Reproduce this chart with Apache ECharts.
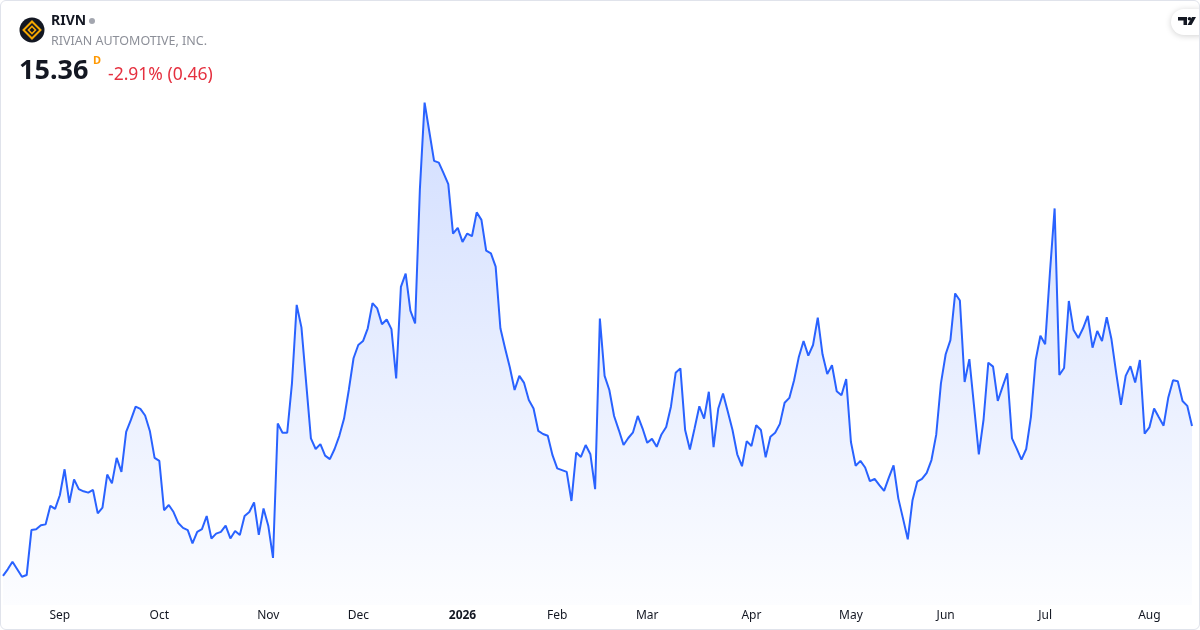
<!DOCTYPE html>
<html>
<head>
<meta charset="utf-8">
<script src="https://cdn.jsdelivr.net/npm/echarts@6/dist/echarts.min.js"></script>
<style>
html,body{margin:0;padding:0;background:#fff;}
#c{position:absolute;left:0;top:0;width:1200px;height:630px;}
#frame{position:absolute;left:0;top:0;width:1200px;height:630px;box-sizing:border-box;border:1px solid #e0e3eb;border-radius:6px;pointer-events:none;}
</style>
</head>
<body>
<div id="c"></div>
<div id="frame"></div>
<script>
// Daily closes, RIVN, 2025-08-14 .. 2026-08-14 (trading days)
const prices = [
11.96,12.11,12.28,12.11,11.94,11.98,13.00,13.02,13.11,13.13,
13.55,13.48,13.79,14.38,13.62,14.15,13.93,13.88,13.85,13.91,
13.38,13.51,14.26,14.06,14.64,14.32,15.23,15.50,15.80,15.75,
15.60,15.25,14.64,14.57,13.45,13.57,13.41,13.16,13.05,13.00,
12.70,12.96,13.02,13.32,12.81,12.92,12.96,13.10,12.81,12.98,
12.89,13.32,13.41,13.63,12.89,13.49,13.10,12.37,15.42,15.21,
15.21,16.33,18.11,17.60,16.34,15.08,14.84,14.95,14.69,14.61,
14.84,15.14,15.53,16.18,16.90,17.20,17.29,17.58,18.15,18.03,
17.67,17.78,17.56,16.44,18.52,18.82,17.98,17.69,20.72,22.70,
22.04,21.38,21.34,21.10,20.85,19.73,19.86,19.54,19.73,19.67,
20.21,20.04,19.34,19.28,18.98,17.58,17.12,16.69,16.18,16.50,
16.34,15.95,15.76,15.25,15.18,15.14,14.70,14.40,14.36,14.32,
13.66,14.76,14.66,14.93,14.72,13.93,17.80,16.50,16.18,15.59,
15.27,14.93,15.09,15.22,15.59,15.31,14.98,15.07,14.89,15.17,
15.34,15.80,16.57,16.67,15.27,14.83,15.31,15.81,15.53,16.14,
14.88,15.76,16.10,15.69,15.27,14.72,14.45,15.02,14.91,15.38,
15.27,14.65,15.12,15.21,15.41,15.89,16.00,16.40,16.93,17.29,
16.96,17.20,17.82,16.99,16.54,16.74,16.15,16.06,16.43,15.00,
14.46,14.57,14.42,14.11,14.16,14.02,13.89,14.19,14.47,13.72,
13.26,12.79,13.68,14.10,14.16,14.30,14.59,15.16,16.33,16.99,
17.31,18.37,18.21,16.36,16.88,15.80,14.72,15.51,16.80,16.71,
15.93,16.25,16.56,15.08,14.85,14.60,14.84,15.57,16.86,17.41,
17.22,18.83,20.30,16.52,16.68,18.20,17.54,17.36,17.58,17.86,
17.14,17.52,17.29,17.83,17.33,16.56,15.84,16.50,16.72,16.35,
16.86,15.19,15.33,15.76,15.56,15.37,16.01,16.40,16.38,15.93,
15.82,15.36
];
const startDate = "2025-08-14";
const holidays = ["2025-09-01","2025-11-27","2025-12-25","2026-01-01","2026-01-19",
  "2026-02-16","2026-04-03","2026-05-25","2026-06-19","2026-07-03"];
const monthLabels = ["2026","Feb","Mar","Apr","May","Jun","Jul","Aug","Sep","Oct","Nov","Dec"];
const ticker = "RIVN";
const company = "RIVIAN AUTOMOTIVE, INC.";
const lastPrice = "15.36";
const changeText = "-2.91% (0.46)";

// trading-day categories
function pad(n){return (n<10?"0":"")+n;}
const dates = [];
{
  const d = new Date(startDate + "T12:00:00Z");
  while (dates.length < prices.length) {
    const wd = d.getUTCDay();
    const s = d.getUTCFullYear()+"-"+pad(d.getUTCMonth()+1)+"-"+pad(d.getUTCDate());
    if (wd !== 0 && wd !== 6 && holidays.indexOf(s) < 0) dates.push(s);
    d.setUTCDate(d.getUTCDate()+1);
  }
}
function isMonthStart(i){
  if (i === 0) return false;
  return dates[i].slice(5,7) !== dates[i-1].slice(5,7);
}
function labelFor(s){
  const m = parseInt(s.slice(5,7),10);
  return monthLabels[m-1];
}

const chart = echarts.init(document.getElementById('c'), null, {renderer:'canvas'});
const FONT = '"Noto Sans", Roboto, sans-serif';
chart.setOption({
  animation:false,
  backgroundColor:'#ffffff',
  grid:{left:3,right:8,top:0,bottom:25},
  xAxis:{
    type:'category',
    data:dates,
    boundaryGap:false,
    axisLine:{show:false},
    axisTick:{show:false},
    splitLine:{show:false},
    axisLabel:{
      margin:5,
      color:'#131722',
      fontSize:12,
      fontFamily:FONT,
      interval:function(i){return isMonthStart(i);},
      formatter:function(v){
        const t = labelFor(v);
        return t === "2026" ? '{b|'+t+'}' : t;
      },
      rich:{b:{fontWeight:'bold',fontSize:12,color:'#131722',fontFamily:FONT}}
    }
  },
  yAxis:{type:'value',min:11.3,max:25.03,show:false,splitLine:{show:false}},
  series:[{
    type:'line',
    data:prices,
    symbol:'none',
    lineStyle:{color:'#2962ff',width:2},
    itemStyle:{color:'#2962ff'},
    areaStyle:{
      color:new echarts.graphic.LinearGradient(0,0,0,1,[
        {offset:0,color:'rgba(41,98,255,0.30)'},
        {offset:1,color:'rgba(41,98,255,0.02)'}
      ])
    }
  }],
  graphic:[
    {type:'circle',shape:{cx:32,cy:30,r:12.5},style:{fill:'#131722'}},
    {type:'rect',x:32,y:30,rotation:Math.PI/4,shape:{x:-6,y:-6,width:12,height:12},style:{fill:'none',stroke:'#f5a700',lineWidth:2}},
    {type:'rect',x:32,y:30,rotation:Math.PI/4,shape:{x:-2.5,y:-2.5,width:5,height:5},style:{fill:'none',stroke:'#f5a700',lineWidth:1.6}},
    {type:'text',style:{text:ticker,x:51,y:21,font:'bold 14px '+FONT,fill:'#131722',verticalAlign:'middle'}},
    {type:'circle',shape:{cx:92,cy:21,r:3},style:{fill:'#a3a6af'}},
    {type:'text',style:{text:company,x:51,y:41,font:'12.5px '+FONT,fill:'#8c8f98',verticalAlign:'middle'}},
    {type:'text',style:{text:lastPrice,x:19,y:71,font:'bold 27px '+FONT,fill:'#131722',verticalAlign:'middle'}},
    {type:'text',style:{text:'D',x:93,y:61,font:'bold 11px '+FONT,fill:'#ff9800',verticalAlign:'middle'}},
    {type:'text',style:{text:changeText,x:108,y:75,font:'17.5px '+FONT,fill:'#e5303f',verticalAlign:'middle'}},
    {type:'rect',shape:{x:1171,y:9,width:40,height:26,r:13},style:{fill:'#ffffff',shadowBlur:6,shadowColor:'rgba(0,0,0,0.18)',shadowOffsetY:1}},
    {type:'polygon',shape:{points:[[1178,17],[1187,17],[1187,25],[1183.5,25],[1183.5,20.5],[1178,20.5]]},style:{fill:'#131722'}},
    {type:'circle',shape:{cx:1189.5,cy:18.8,r:1.8},style:{fill:'#131722'}},
    {type:'polygon',shape:{points:[[1192,17],[1196,17],[1191.5,25],[1187.5,25]]},style:{fill:'#131722'}}
  ]
});
</script>
</body>
</html>
